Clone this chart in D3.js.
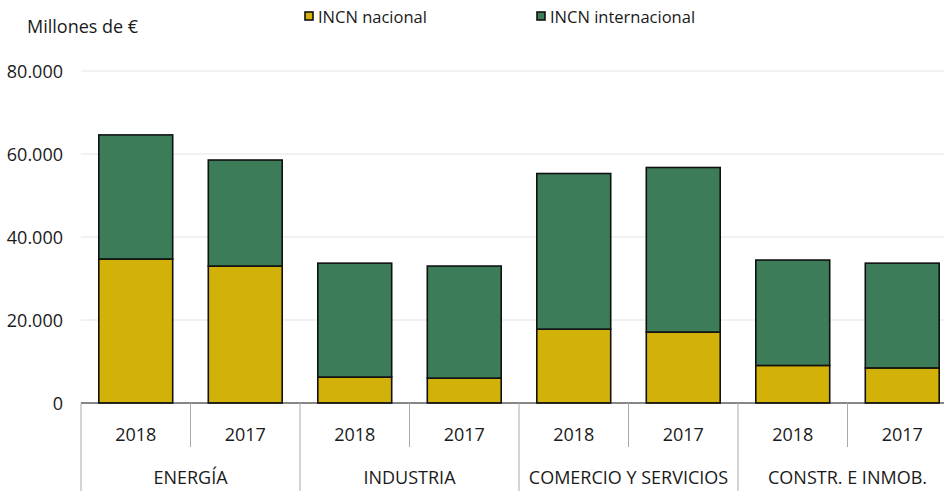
<!DOCTYPE html>
<html lang="es">
<head>
<meta charset="UTF-8">
<title>INCN</title>
<script src="https://cdn.jsdelivr.net/npm/d3@7"></script>
<style>
  body { margin: 0; background: #fff; }
  text { font-family: "Open Sans", "Noto Sans", sans-serif; fill: #1a1a1a; }
</style>
</head>
<body>
<svg></svg>
<script>
// datos (millones de €)
const sectores = ["ENERGÍA", "INDUSTRIA", "COMERCIO Y SERVICIOS", "CONSTR. E INMOB."];
const anios = ["2018", "2017"];
const nacional =      [34700, 33000, 6250, 6000, 17800, 17100, 9050, 8450];
const internacional = [29900, 25550, 27450, 27000, 37500, 39650, 25400, 25250];
const yTicks = [0, 20000, 40000, 60000, 80000];
const series = ["INCN nacional", "INCN internacional"];
const colores = ["#d2b108", "#3d7c58"];

const width = 944, height = 491;
const mLeft = 81, mRight = 957, mTop = 71, mBottom = 403;
const fs = 18;

const svg = d3.select("svg").attr("width", width).attr("height", height);

// una entrada por barra
let barras = [];
sectores.forEach((s, i) => anios.forEach((a, j) => {
    let k = i * 2 + j;
    barras.push({ key: s + "|" + a, sector: s, anio: a, nac: nacional[k], int: internacional[k] });
}));

const x = d3.scaleBand().domain(barras.map(d => d.key)).range([mLeft, mRight]).paddingInner(0.325).paddingOuter(0.1625);
const xg = d3.scaleBand().domain(sectores).range([mLeft, mRight]);
const y = d3.scaleLinear().domain([0, 80000]).range([mBottom, mTop]);

const fmt = d3.formatLocale({ decimal: ",", thousands: ".", grouping: [3], currency: ["", "€"] }).format(",");

// rejilla
svg.append("g").selectAll("line").data(yTicks.slice(1)).enter().append("line")
    .attr("x1", mLeft).attr("x2", width)
    .attr("y1", d => y(d)).attr("y2", d => y(d))
    .attr("stroke", "#e4e4e4").attr("stroke-width", 1);

// eje y
const yAxis = svg.append("g").attr("transform", "translate(63,0)")
    .call(d3.axisLeft(y).tickValues(yTicks).tickFormat(fmt).tickSize(0).tickPadding(0));
yAxis.select(".domain").remove();
yAxis.selectAll("text").attr("font-size", fs).attr("dy", "0.35em").style("fill", "#1a1a1a")
    .attr("font-family", "Open Sans");

svg.append("text").attr("x", 27).attr("y", 33).attr("font-size", fs).text("Millones de €");

// barras apiladas
const stack = d3.stack().keys(["nac", "int"])(barras);
svg.append("g").selectAll("g").data(stack).enter().append("g")
    .attr("fill", (d, i) => colores[i])
    .selectAll("rect").data(d => d).enter().append("rect")
    .attr("x", d => x(d.data.key))
    .attr("width", x.bandwidth())
    .attr("y", d => y(d[1]))
    .attr("height", d => y(d[0]) - y(d[1]))
    .attr("stroke", "#111").attr("stroke-width", 1.6);

// eje x
svg.append("line").attr("x1", mLeft).attr("x2", width).attr("y1", mBottom).attr("y2", mBottom)
    .attr("stroke", "#111").attr("stroke-width", 1.2);

// separadores de años
svg.append("g").selectAll("line").data(sectores).enter().append("line")
    .attr("x1", d => xg(d) + xg.bandwidth() / 2).attr("x2", d => xg(d) + xg.bandwidth() / 2)
    .attr("y1", mBottom).attr("y2", 447)
    .attr("stroke", "#aaa").attr("stroke-width", 1);
// separadores de sectores
svg.append("g").selectAll("line").data(sectores).enter().append("line")
    .attr("x1", d => xg(d)).attr("x2", d => xg(d))
    .attr("y1", mBottom).attr("y2", height)
    .attr("stroke", "#aaa").attr("stroke-width", 1);

svg.append("g").selectAll("text").data(barras).enter().append("text")
    .attr("x", d => x(d.key) + x.bandwidth() / 2).attr("y", 440.5)
    .attr("text-anchor", "middle").attr("font-size", fs).text(d => d.anio);

svg.append("g").selectAll("text").data(sectores).enter().append("text")
    .attr("x", d => xg(d) + xg.bandwidth() / 2).attr("y", 484)
    .attr("text-anchor", "middle").attr("font-size", fs).text(d => d);

// leyenda
const leg = svg.append("g").selectAll("g").data(series).enter().append("g")
    .attr("transform", (d, i) => "translate(" + [305, 537][i] + ",0)");
leg.append("rect").attr("x", 0).attr("y", 12).attr("width", 8).attr("height", 8)
    .attr("fill", (d, i) => colores[i]).attr("stroke", "#111").attr("stroke-width", 1.6);
leg.append("text").attr("x", 13).attr("y", 23).attr("font-size", 16.5).text(d => d);
</script>
</body>
</html>
